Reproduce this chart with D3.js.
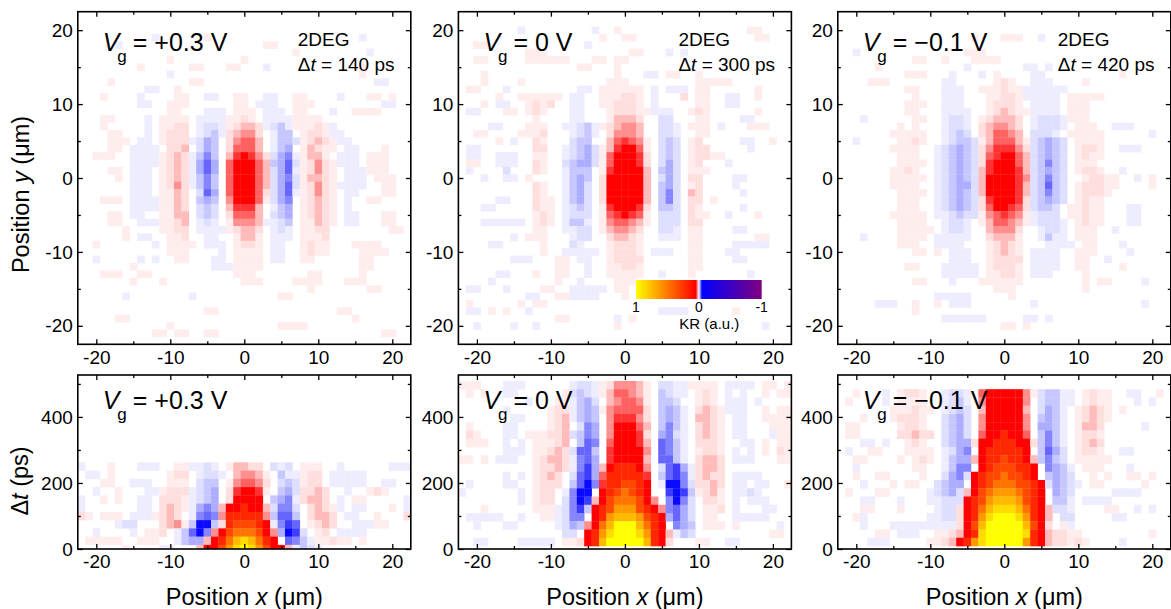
<!DOCTYPE html>
<html><head><meta charset="utf-8">
<script src="https://cdn.jsdelivr.net/npm/d3@7/dist/d3.min.js"></script>
<style>html,body{margin:0;padding:0;background:#fff}svg{display:block}text{font-family:"Liberation Sans",Arial,sans-serif;fill:#000}</style>
</head><body><svg id="c" width="1171" height="609"></svg>
<script>
// Cell levels: '.'=0, 1-7 pink/red, 8,9,A-E red to yellow, a-h pale blue to blue
const levelKeys = [".","1","2","3","4","5","6","7","8","9","A","B","C","D","E","a","b","c","d","e","f","g","h"];
const levelValues = [0,.0035,.0065,.0135,.022,.031,.04,.052,.2,.32,.48,.62,.74,.87,1,-.0035,-.0065,-.011,-.016,-.024,-.03,-.038,-.048];
const xPositions = [-22,-21,-20,-19,-18,-17,-16,-15,-14,-13,-12,-11,-10,-9,-8,-7,-6,-5,-4,-3,-2,-1,0,1,2,3,4,5,6,7,8,9,10,11,12,13,14,15,16,17,18,19,20,21,22];
const yPositions = [22,21,20,19,18,17,16,15,14,13,12,11,10,9,8,7,6,5,4,3,2,1,0,-1,-2,-3,-4,-5,-6,-7,-8,-9,-10,-11,-12,-13,-14,-15,-16,-17,-18,-19,-20,-21,-22];
const B = "..... ..... ..... ..... ..... ..... ..... ..... .....";

// y maps (top row y = +22, bottom row y = -22)
const mapVgPlus = [B,B,B,
"..... ..... a.... ..1.. ..... ..... ..... ...a. .....",
"..... a.... ..... ..... ..... 11... ..... ..... .....",
"..... ..... ..... ..... ..... ....1 ..... ....a .....",
"..... ..... ..1.. ..... ..1.. ..... ..... ..... .....",
"..... ...1. ..... 11... 11... a.... ..... ...1. .....",
"..... ..... ..a.. ..... ..... ..... ..... ...1. .....",
"....1 ..... ..... 11... ..... ..... ..... ..... aa...",
"..... ....a a..1. ..... ..... ..... ..... ..... .....",
"...1. ...a. ...11 ..aa. .11.. aa..1 1.... a...1 1.1..",
"..... ...aa ..111 ..... .11.a aa..1 11... ..... .aa..",
"..... ..... ..11. ..aaa .111. aaa.1 1...a ..111 1....",
"...11 ....a .1111 .aaaa 1121. aaaa1 111.. ..... .....",
"...1. ....a .1122 .abba 12332 abca1 1121a ..... .....",
"....1 1...a .1222 .abca 23442 .acc. 1221a a.... .....",
"....1 11.aa .1222 abdc. 24553 .accb 12321 aa... .....",
"....1 1.aaa a.223 .bdc. 25553 .acd. 13211 .aa.. .1...",
"..111 ..aaa a1232 acec. 36764 2bdea 1331. aaa.1 11...",
"..... ..aaa a1232 adfd. 57775 3cdfb 12421 aaa.1 11...",
"....1 1.aaa .1232 adfd. 57775 3bdfa 12421 .aaa1 11...",
"..... 1.aaa .1232 acec. 57775 3bdeb 13321 .aaa. 111..",
"..... ..aaa .1242 acec. 57775 3bdfb 12421 aaaa. .11..",
"..... ..aaa .1132 .bfd. 57775 2bdfa 12421 .aa.. .11..",
"...11 1.aaa a1132 .cdc. 47775 1bde. 12321 .a..1 1....",
"..... ..aaa a1132 .bcb. 36663 .acd. 12321 .a... .....",
"....1 1.aa. .1133 .bcb. 25553 .bcd. 12321 .aa.. .11..",
"....1 1..aa a1123 .aba. 14443 aabc. 11321 .aa.. .11..",
"..... .1... .1122 .aaaa 12332 .aba. 1122. ..... ..11.",
"..... .1.aa ..112 ..aa. .1331 .aaa. 1112. ..... .....",
"..1.. ..... a.111 1.aaa .1221 .aa.. 1211. ..111 1....",
"..... ..... ..111 ....a .1111 .aa.. 1211. ...11 11...",
"..a.. ...a. a..11 ...aa .1111 .aa.. 11... ...11 .....",
"..... ..1.. ..... ...aa a1111 ..... ..... ...11 .....",
"...11 1..11 ..... ..... .111. ..... .11.. ...1. .....",
"..... ..1.. .1... ..... ..111 ....1 111.. .111. .....",
"..... ..... ..... ..... ..... ..... .1... ....1 1....",
"..... .a... ..... a.... ..... ..11. ..... ..... .....",
B,
"..... ..... ..... ..11. ..... ..... ..... 11... .....",
"..... 11... ..... ..... ..... ..... ..... ..1.. .....",
"..... ..... ..1.. ..... ..... ..111 1.... ..... .....",
"..... ..... 11.11 ..11. ..... ..... ..... ..... .11..",
B];

const mapVgZero = [B,B,
"..... ...a. ..... ...a. .1... ..... ..... ....1 1....",
"..... ..... ..... ....1 ..11. ..... ..... ..... 11...",
"..11. ..... ..... ..a.. ..... ..... ..... ..... .....",
"..... ....1 11... ..... ...11 ...a. a.... ..... .....",
"..11. ....1 11111 ...11 .11.. ..... ..... ..... .....",
"..... ..... ..... .11.. .1... ..... ..... ..... .....",
"...1. ..... ..... ..... .1... aa.11 ..1.. ..... .....",
"...1. ...1. ..... ..... 111.. ..... ..111 11... .....",
".11.. .a... ..... .aa.1 11111 .a.aa a.11. ..... 1....",
"..... 1..11 1111. aa..1 11221 .a... 2.11. .aa.. 1....",
"...1. aa..1 212.. aa..1 12221 .a... ..11. .aa.. .....",
".aa.. .11.1 21... aa... 12221 1aaa. .121. ..... 1....",
"..... ..... 1.... aa... 13332 ..bb. ..11. ...aa .....",
"....a a...1 11..a abca1 23443 ..bba .111. a...1 11...",
"..11. ...11 12... abca. 24443 ..bba ..11. ..... .....",
"..... 1.a.. 21... bcc.. 35654 1.bcb .12.. ...aa ..1..",
".aa.. ..... 22..a bcdb1 36775 1.bcb .122. ....a .....",
".aa.. aaa.. 11..a bcdb1 57776 2.bcb .1221 1.... .....",
".11.. aaa.. 21..b cddb1 57776 2.bdb .12.. .a... .....",
".a... .b... 21..a ccc.1 67777 3.cdb .111. ..... .....",
"...a. .aa.1 ....a cdc.2 77777 3.bdb .22.. ..aa. .....",
"..... ..... 21..a cdb.2 77777 3.cdb .12.. ..a.. .....",
"..... ..... 21..a cdb.2 77777 3.ceb .32.. ...a. .....",
"..... aa... 211.a cdb.2 77777 3.ceb .22.1 ..... .....",
"...aa ..... 211.a bcb.1 67776 2.ccb .21.. ...a. .....",
"..... ..... 121.a bbb.1 56765 1.bbb .211. .a... 1....",
"...aa aaaa. 121.a cca.1 45543 1.bbb .22.. ..... .....",
"..... ..... 11..a abb.1 34432 ..bba .11.. ..aa. .....",
"..... ..a.1 11... abb.. 23321 ..aaa .11.. ..... 11...",
"....a a.... .1... ba... 12221 ..... .11.. ..aaa aa...",
"..... ..... .1..a aaaa. 12221 .aaa. .11.. .aa.. .....",
"..... ..aaa ...11 .aa.. 12222 ..... .11.. ..aa. .....",
"..... ..... ...11 ..a.. 11221 ..... .11.. ..... .....",
"..... aa... 1..11 ..a.. 11111 ..a.. .1... ....a .....",
"....a ..... ...1. .a... .111. ..... ..... ..... .....",
".aa.. .a... .11.. aaaaa .11.. ..... ..... ..... .....",
"..... ....a a..11 aaaa. ..1.. ..... ..... ..... .....",
".1... ...1. 11... ..... ..... ..... ..... ..... .....",
".aa.1 .1..a ..... ..... ..... ..aaa a.... ..1.. .....",
"..... ..... ...11 ..... .a.1. ..... ..... ..... .....",
"..a.. ..a.. a.... ..... .1... ..... ..... ..... .a...",
B,B];

const mapVgMinus = [B,B,B,
"..... ..... ..... ...1. ..111 ..a.. ..... ..... .....",
B,
"..a.. ..... ..... ..111 ..... ..... ..... ..... .....",
"..... ..... 11..1 ...11 11... ..... ..... ..... .....",
"..... 1.... ..... ..a.. ..... aa.a. ..... ..... .....",
"..... ....1 11... a...a .1... .aa.. ..... ...1. .....",
"....1 11... ....a a.... .121. .aaa. ...1. ..... .....",
"..... ....1 1...a aa..1 11211 aaaaa a.... ..... .....",
"..... ..... 1...a aa... 11221 aaaaa .1111 1.... .....",
"..... ....1 11..a aa... 12221 .aaaa .111. ..... .....",
"..... ....1 1...a aaa.. 12321 1aaaa .111. ..... .....",
"...a. ..... 11..a bba.1 23332 .abbb a111. ..... .....",
"..... ...1. 1...a bba.2 34432 .abbb a.111 ..aaa .....",
"..... ..111 11..a bcb.2 35543 .bbba .1111 1.... ..a..",
"..a.. ...11 21..a bccb1 35553 1bcdc b.111 1.... .....",
"..... ..111 1..ab cdcb2 46664 2bcdc b.122 1..aa a....",
"..... ...11 1..ab cdcb2 56775 3bcdc b.121 1.... .....",
"..... ...11 11.ab cdcb2 67775 3bcec b.111 ..... .....",
"..... ..112 1..ab cdcb3 67776 3bcdc b.122 1..a. .....",
"..... ..111 11.ab cdcb3 77776 4bcec b..12 211.. a.1..",
"..... ..111 1..ab cddb3 77776 3bcfc b.122 211.. ..1..",
"..... ...11 11.ab cdcb3 77776 3bcec b.122 21... .....",
"..... ...11 1..ab cdcb2 67776 2bcdc b.121 1.... .....",
"..... ...11 1..ab cdcb2 57765 2bccb .1121 1...a a....",
"..... ..111 11.aa bcbb1 45654 1abbb .1121 1...a a....",
"..... ...11 11..a bba.1 35543 1abbb a.121 1...a a....",
"..... ...11 111.a bba.. 34442 ..abb a.111 ..a.. .....",
"...a. ...11 11.aa aaa.. 23331 ..aca a.111 ..... .....",
"..... ...11 1..aa aa... 12321 ...aa aa.11 ...a. .....",
"..... ..... 11.1. aaa.. 12321 .aaaa ..111 ....a .....",
"..... ..... ..... aaa.. 12222 .aaaa ..11. .a... .....",
"..... ....1 1...a aaaa. 12221 .aaaa ..11. ...1. .....",
"..... ..... ....a aaaa. 11221 .aaa. ...1. ..... .....",
"..... ..... 11... a...1 11111 ..... ...1. 11... .a...",
"..... ..... ..... ..... .111. ..... ...1. ..... .....",
"..... ..... ...aa aaa.. ...1. ..... ..... ..... .....",
"..... aaa.. 1..1. aaa.. ..... .a... ..... ..... .a...",
"..... ..... 1.... ..... ..... ..... ..... ..... .....",
"..... ..... ....a aaaaa ..... aa.a. ..... ..... .....",
"..... ..... ..... ..... ..11. 1.... ..... ..... .....",
B,B];

// time maps (top row first)
const timeVgPlus = [
"a...1 ...aa a..11 aaba. 13322 .bab. 111.. a.... ..aaa",
".aa.1 ..... ..122 .abba .3443 1.caa 122.a aaaa. .....",
"...11 ..aaa ..111 .bcc. 14554 2.bcb 122.a aaaa. .aa..",
"..a.. 1...a a1222 abcd. 26776 1.cdb 2232. .a..1 21...",
"a..1. 1..aa .2221 abcd. 27777 .cdea 2332. a.11. ....a",
"a.... ...aa .2321 aded3 77877 3beeb .2321 a.aa. ..1.a",
"21.11 1.aaa 1232. aefe4 88888 4cffc .2332 .aa.. 1...2",
"..... abb.. .2341 chhc2 89998 7aegf .1232 ..aaa 11...",
"..a.. ..a.1 12.ac fhe47 9AAA9 74dhg b.12. aaaa. .....",
".1111 1..11 1..ac dd378 ACDCA 87.fe ca112 11.1. .....",
"..... .1... .aa.. .3779 BDEDB 9773a cba.. ..... ....."];

const timeVgZero = [
"111.. .aaa. ..... abba1 24443 1.bba a1111 .aaaa .11.1",
".1.1. .aa.. ....1 bcba1 35543 1.cba a.121 .a.a. .1.11",
"..... ....a ...11 acdb. 34554 1.ccb ..121 .aaa. a....",
"..... .a... ..122 acdc1 45555 2.cdc a.232 1aaa. .1.11",
"..... ..aa. ..123 acdc. 46664 2.cdc a.332 1.aa. .1111",
".1... .aa.. ..123 .bed. 47775 3.cec a.232 1.aa. ..111",
".21.. .aa.1 11223 bced. 47776 2.deb a.232 1.aa. ..a11",
".111. .a.a. 11123 .cfe. 57776 3.fec a.222 1..aa .1.11",
"..... .aaa. 11232 bffc. 67777 4.fec a.122 1.a.a .1.21",
"11.1. aaa.. 12332 aefd. 67777 3.ffc a.233 2.aaa ...11",
"..... ..... 12232 aegd3 78887 4.bfg da233 2.... .....",
"..... .a.a. 1232. bfgd5 88888 6.cfg ea232 2.aaa a....",
".a... .aa.. 1222. cfhe6 88998 7.ahh eb223 2.aa. aa..1",
"a.... ...a. 122.a ehh.7 89A98 7..gh gc123 1.aab a....",
"..... ...a. 122.b ehg37 9AAA9 74.eh eb.22 1.a.a aa...",
"...1. ..... 111ab egc78 9BBB9 874ef db.11 2.a.. .aa..",
".aaaa a..a. .11ab ee.78 BCCCB 987df db.11 ..aaa aa...",
"..a.. .aa.. ...ab dc47A CEEEC A87.e dc.11 1.1.. ...a.",
"..... ..... ....b b.78B DEEED B873a cb... ..... ..11.",
"..aa. ...aa aaa.1 1278C EEEEE C872. ..11. .aa.. ....."];

const timeVgMinus = [
"..1.. .a.12 21..a bba.5 77777 41bcc aa.12 11..a a..1.",
".1... .a.11 11..a bca.4 77777 4.bcc aa.12 11... a.a..",
"..... ..111 211.a bcb.3 77777 3.bdc a.123 21.1. .....",
"...1. ..122 21..b cdb.4 77777 4.cdc a.123 21... .....",
".11.. ...12 21..b cdb.4 77777 4.ddc a.133 2.... .a...",
".11.. ...22 322.b cdb.5 77877 5.cec a.122 1.... .....",
"...aa .a..1 21..b cdd27 78887 72cec a.123 2.... .....",
".a..1 1...1 111.a bde.7 88888 7.cfd b.122 1..aa .....",
"..11. ...1. 121.a cdd37 88988 73cec b.111 11... .....",
"..a.. ..... 11..a cee.7 89998 87.ed ca.11 1...a .....",
"..1.. 11... .1..b deb78 99A99 87.cd cb..1 .1..1 1.1..",
"...a. ..1.1 1..bc dd.78 9AAA9 987bd cba.1 1.... .1...",
".1... 11... ..abc db379 ABBBA 987.d cb... ..aaa a....",
"...aa ...a. ..aab bb789 BCCCB 987.c ca.aa aa... .....",
"...11 ...1. ...ab b278A CDDDC A873b ba... .11.. a.a..",
"..1a. ..... ..aab b278B DEEED B873. bb... ..aa. .....",
"...a. ..aaa aaaaa a279C EEEEE C972. 1a... ..... .....",
"..... 11.aa a..11 2378D EEEEE D8732 211.. ..... ..1..",
"....a aa... ..112 378BD EEEEE B8732 2121. ...a. ....."];

const timeStepPs = 25;
const bottomRowCentrePs = [0, 21.5, 21.5];
const gateLabels = ["+0.3", "0", "\u22120.1"];
const delayLabels = [140, 300, 420];
const xTicks = [-20,-10,0,10,20], xMinor = [-15,-5,5,15];
const yTicks = [-20,-10,0,10,20], yMinor = [-15,-5,5,15];
const tTicks = [0,200,400], tMinor = [100,300,500];
const barLabels = [1,0,-1];
const panelLefts = [77.8, 458.4, 837.8];

const levelOf = new Map(levelKeys.map((k,i)=>[k,levelValues[i]]));
const parse = s => s.replace(/ /g,"").split("").map(c=>levelOf.get(c)||0);
const color = d3.scaleLinear().domain([1,.05,0,-.05,-1]).range(["#ffff00","#ff0000","#ffffff","#0000ff","#800080"]);

const svg = d3.select("#c");
const W = 333, H1 = 332.6, topY = 11.7, H2 = 174, botY = 375;
const FS = 19;

function frame(g, x, y, w, h, xt, xm, yt, ym){
  const fmt = d => String(d);
  const axes = [
    [d3.axisBottom(x).tickValues(xt).tickSize(-5).tickPadding(6).tickFormat(fmt), `translate(0,${h})`],
    [d3.axisBottom(x).tickValues(xm).tickSize(-3).tickFormat(""), `translate(0,${h})`],
    [d3.axisTop(x).tickValues(xt).tickSize(-5).tickFormat(""), "translate(0,0)"],
    [d3.axisTop(x).tickValues(xm).tickSize(-3).tickFormat(""), "translate(0,0)"],
    [d3.axisLeft(y).tickValues(yt).tickSize(-5).tickPadding(5).tickFormat(fmt), "translate(0,0)"],
    [d3.axisLeft(y).tickValues(ym).tickSize(-3).tickFormat(""), "translate(0,0)"],
    [d3.axisRight(y).tickValues(yt).tickSize(-5).tickFormat(""), `translate(${w},0)`],
    [d3.axisRight(y).tickValues(ym).tickSize(-3).tickFormat(""), `translate(${w},0)`]
  ];
  axes.forEach(([a,t])=>{
    const s = g.append("g").attr("transform",t).call(a);
    s.select(".domain").remove();
    s.selectAll("line").attr("stroke","#000").attr("stroke-width",1.3);
    s.selectAll("text").attr("font-size",FS).attr("fill","#000").style("font-family",'"Liberation Sans",Arial,sans-serif');
  });
  g.append("rect").attr("width",w).attr("height",h).attr("fill","none").attr("stroke","#000").attr("stroke-width",1.6);
}

function gateText(g, label){
  g.append("text").attr("x",25).attr("y",0).attr("font-size",25).attr("font-style","italic").text("V");
  g.append("text").attr("x",39.5).attr("y",10.5).attr("font-size",17).text("g");
  g.append("text").attr("x",55).attr("y",0).attr("font-size",25).text(`= ${label} V`);
}

[mapVgPlus,mapVgZero,mapVgMinus].forEach((rows,p)=>{
  const L = panelLefts[p];
  const g = svg.append("g").attr("transform",`translate(${L},${topY})`);
  const x = d3.scaleLinear().domain([-22.5,22.5]).range([0,W]);
  const y = d3.scaleLinear().domain([22.5,-22.5]).range([0,H1]);
  const cells = rows.flatMap((r,j)=>parse(r).map((v,i)=>({x:xPositions[i],y:yPositions[j],v}))).filter(d=>d.v!==0);
  g.selectAll("rect.c").data(cells).join("rect").attr("class","c")
    .attr("x",d=>x(d.x-.5)).attr("y",d=>y(d.y+.5))
    .attr("width",x(1)-x(0)+.3).attr("height",y(0)-y(1)+.3)
    .attr("fill",d=>color(d.v));
  frame(g,x,y,W,H1,xTicks,xMinor,yTicks,yMinor);
  const t = g.append("g").attr("transform",`translate(0,39.3)`);
  gateText(t, gateLabels[p]);
  g.append("text").attr("x",220).attr("y",34.3).attr("font-size",19).text("2DEG");
  const d = g.append("text").attr("x",220).attr("y",59.3).attr("font-size",19);
  d.append("tspan").text("\u0394");
  d.append("tspan").attr("font-style","italic").text("t");
  d.append("tspan").text(` = ${delayLabels[p]} ps`);
  if(p===1){
    const bw = 125.7, bh = 19, bx = 636-L, by = 280-topY;
    const defs = svg.append("defs").append("linearGradient").attr("id","kr");
    const bs = d3.scaleLinear().domain([1,-1]).range([0,1]);
    [1,.75,.5,.25,.05,.02,0,-.02,-.05,-.25,-.5,-.75,-1].forEach(v=>defs.append("stop").attr("offset",bs(v)).attr("stop-color",color(v)));
    g.append("rect").attr("x",bx).attr("y",by).attr("width",bw).attr("height",bh).attr("fill","url(#kr)");
    const bar = d3.scaleLinear().domain([1,-1]).range([bx,bx+bw]);
    g.selectAll("text.bl").data(barLabels).join("text").attr("class","bl")
      .attr("x",d=>bar(d)).attr("y",311.7-topY).attr("text-anchor","middle").attr("font-size",14).text(d=>d);
    g.append("text").attr("x",bar(0)+10.5).attr("y",329-topY).attr("text-anchor","middle").attr("font-size",15).text("KR (a.u.)");
  }
});

[timeVgPlus,timeVgZero,timeVgMinus].forEach((rows,p)=>{
  const L = panelLefts[p];
  const g = svg.append("g").attr("transform",`translate(${L},${botY})`);
  const clipId = "cl"+p;
  svg.append("clipPath").attr("id",clipId).append("rect").attr("width",W).attr("height",H2);
  const x = d3.scaleLinear().domain([-22.5,22.5]).range([0,W]);
  const y = d3.scaleLinear().domain([0,527]).range([H2,0]);
  const n = rows.length;
  const cells = rows.flatMap((r,j)=>parse(r).map((v,i)=>({x:xPositions[i],t:bottomRowCentrePs[p]+(n-1-j)*timeStepPs,v}))).filter(d=>d.v!==0);
  g.append("g").attr("clip-path",`url(#${clipId})`).selectAll("rect").data(cells).join("rect")
    .attr("x",d=>x(d.x-.5)).attr("y",d=>y(d.t+timeStepPs/2))
    .attr("width",x(1)-x(0)+.3).attr("height",y(0)-y(timeStepPs)+.3)
    .attr("fill",d=>color(d.v));
  frame(g,x,y,W,H2,xTicks,xMinor,tTicks,tMinor);
  const t = g.append("g").attr("transform",`translate(0,34)`);
  gateText(t, gateLabels[p]);
  const lab = svg.append("text").attr("x",L+166.5).attr("y",604.5).attr("text-anchor","middle").attr("font-size",23.5);
  lab.append("tspan").text("Position ");
  lab.append("tspan").attr("font-style","italic").text("x");
  lab.append("tspan").text(" (\u03BCm)");
});

const yl = svg.append("text").attr("transform","translate(29,194.5) rotate(-90)").attr("text-anchor","middle").attr("font-size",23.5);
yl.append("tspan").text("Position ");
yl.append("tspan").attr("font-style","italic").text("y");
yl.append("tspan").text(" (\u03BCm)");
const tl = svg.append("text").attr("transform","translate(28,481) rotate(-90)").attr("text-anchor","middle").attr("font-size",23.5);
tl.append("tspan").text("\u0394");
tl.append("tspan").attr("font-style","italic").text("t");
tl.append("tspan").text(" (ps)");
</script></body></html>
